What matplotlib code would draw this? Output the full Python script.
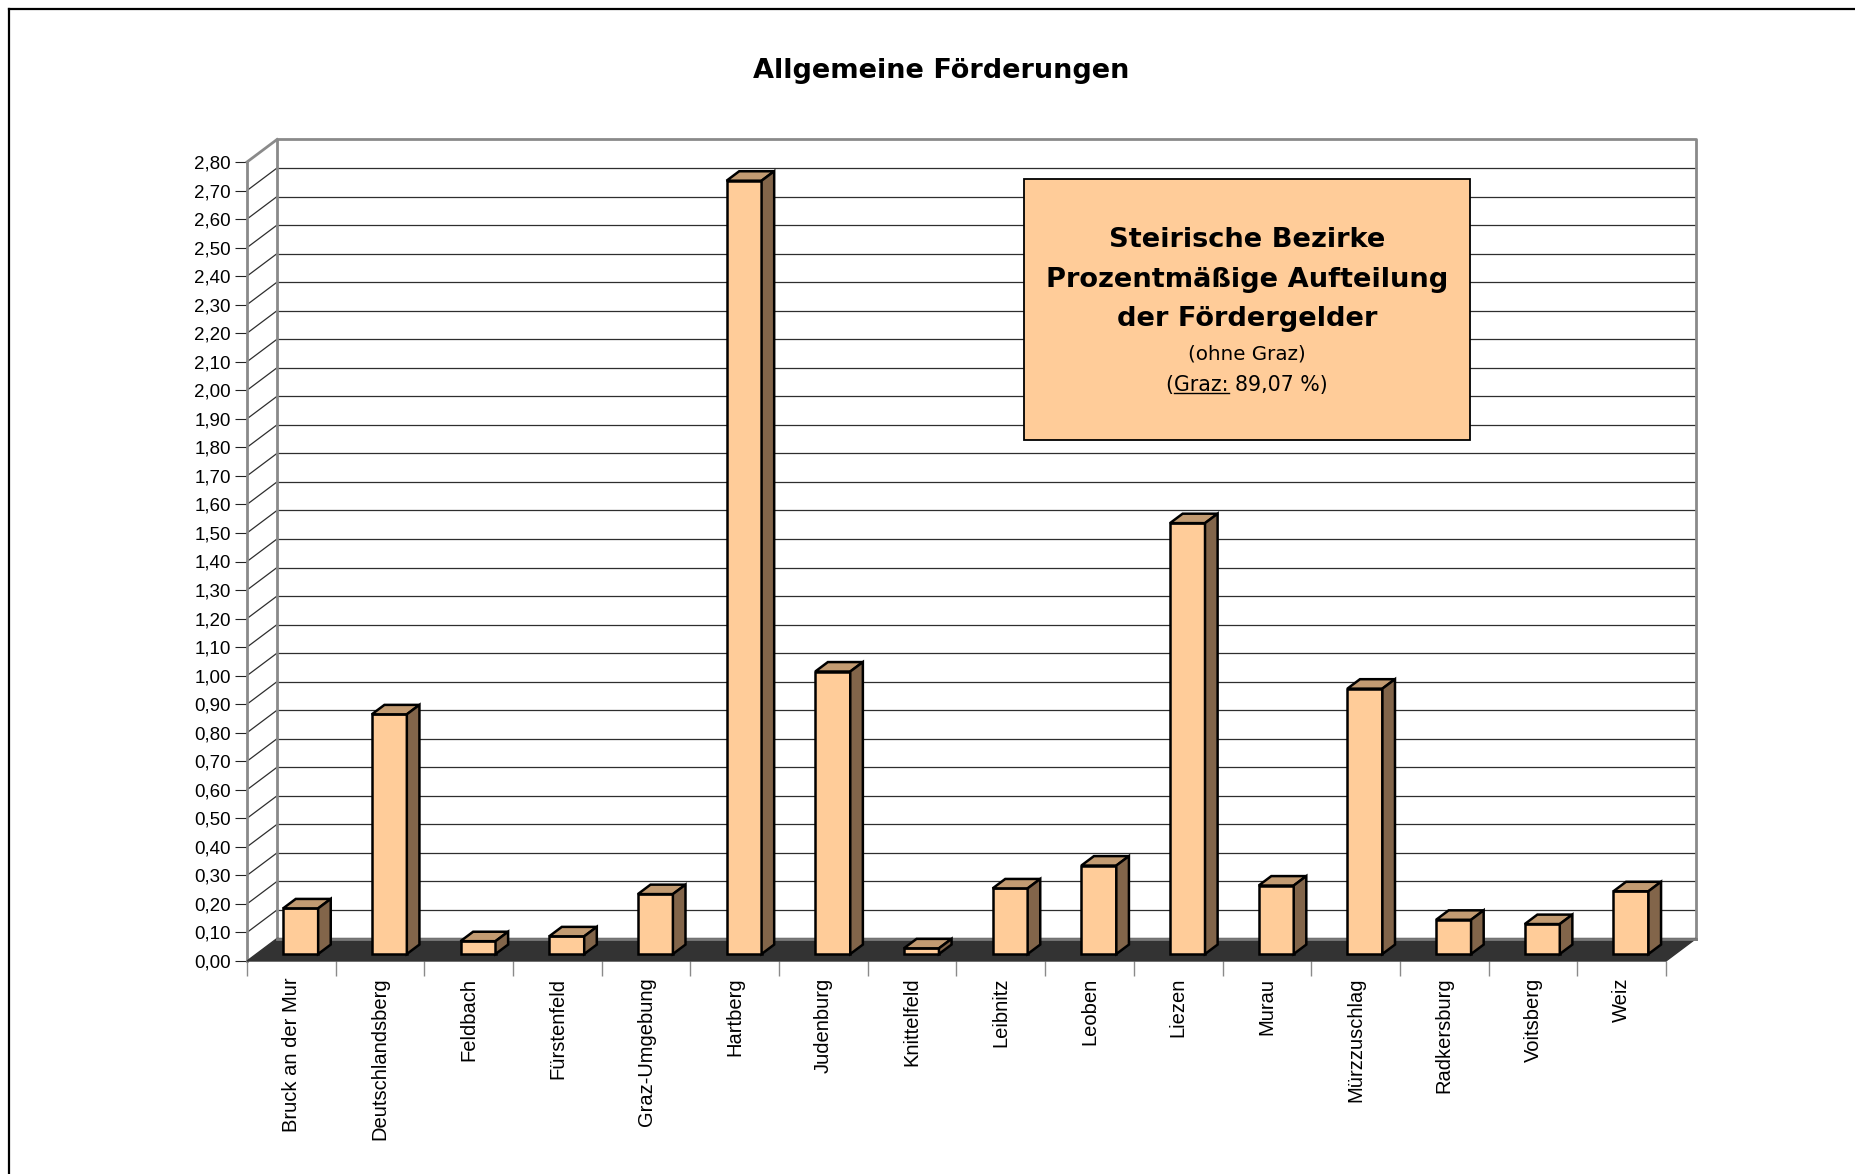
import matplotlib
matplotlib.use("Agg")
import matplotlib.pyplot as plt
import numpy as np
from matplotlib.lines import Line2D
from matplotlib.patches import Rectangle

# --- data (percent of funding, without Graz) ---
districts = [
    "Bruck an der Mur", "Deutschlandsberg", "Feldbach", "Fürstenfeld",
    "Graz-Umgebung", "Hartberg", "Judenburg", "Knittelfeld", "Leibnitz",
    "Leoben", "Liezen", "Murau", "Mürzzuschlag", "Radkersburg",
    "Voitsberg", "Weiz",
]
shares = [0.16, 0.84, 0.045, 0.062, 0.21, 2.71, 0.99, 0.02, 0.23,
          0.31, 1.51, 0.24, 0.93, 0.12, 0.105, 0.22]
y_ticks = [round(0.1 * k, 2) for k in range(29)]
y_labels = [f"{v:.2f}".replace(".", ",") for v in y_ticks]

title = "Allgemeine Förderungen"
box_lines = ["Steirische Bezirke", "Prozentmäßige Aufteilung", "der Fördergelder"]
box_note = "(ohne Graz)"
box_graz = "(Graz: 89,07 %)"

W, H = 1856, 1174
FRONT_L, FRONT_R, FRONT_B, FRONT_T = 247, 1666, 961, 162
YMAX = 2.8

FACE = "#FFCC99"
TOP = "#C29B72"
SIDE = "#82654A"
GRID = "#2e2e2e"
FRAME = "#8a8a8a"

plt.rcParams["font.family"] = ["Liberation Sans", "DejaVu Sans"]

fig = plt.figure(figsize=(W / 100, H / 100), dpi=100)
fig.patch.set_facecolor("white")

ax = fig.add_axes([FRONT_L / W, 1 - FRONT_B / H,
                   (FRONT_R - FRONT_L) / W, (FRONT_B - FRONT_T) / H])
n = len(districts)
ax.set_xlim(0, n)
ax.set_ylim(0, YMAX)
ax.patch.set_visible(False)

# depth of the pseudo-3D box in data units
DX = 30 / ((FRONT_R - FRONT_L) / n)
DY = 22.5 / ((FRONT_B - FRONT_T) / YMAX)

# back wall grid + left wall diagonals
for v in y_ticks[1:-1]:
    ax.plot([DX, n + DX], [v + DY, v + DY], color=GRID, lw=0.9, clip_on=False, zorder=1)
    ax.plot([0, DX], [v, v + DY], color=GRID, lw=0.9, clip_on=False, zorder=1)

# wall frame
ax.plot([DX, DX, n + DX, n + DX], [DY, YMAX + DY, YMAX + DY, DY],
        color=FRAME, lw=2, clip_on=False, zorder=2)
ax.plot([0, DX], [YMAX, YMAX + DY], color=FRAME, lw=2, clip_on=False, zorder=2)

# floor
ax.fill([0, n, n + DX, DX], [0, 0, DY, DY], color="#333333", clip_on=False, zorder=3)
ax.plot([DX, n + DX], [DY, DY], color="#7a7a7a", lw=2, clip_on=False, zorder=3.5)

# bars
BW = 35 / ((FRONT_R - FRONT_L) / n)
F0, F1 = 0.31, 0.73
d, e = (F1 - F0) * DX, (F1 - F0) * DY
for i, v in enumerate(shares):
    x0 = i + 0.5 - BW / 2 + F0 * DX
    y0 = F0 * DY
    kw = dict(ec="black", lw=1.8, clip_on=False, zorder=5, joinstyle="miter")
    ax.fill([x0, x0 + BW, x0 + BW, x0], [y0, y0, y0 + v, y0 + v], fc=FACE, **kw)
    ax.fill([x0, x0 + BW, x0 + BW + d, x0 + d],
            [y0 + v, y0 + v, y0 + v + e, y0 + v + e], fc=TOP, **kw)
    ax.fill([x0 + BW, x0 + BW + d, x0 + BW + d, x0 + BW],
            [y0, y0 + e, y0 + v + e, y0 + v], fc=SIDE, **kw)

# axes, ticks, labels
for side in ("top", "right", "bottom"):
    ax.spines[side].set_visible(False)
ax.spines["left"].set_color(FRAME)
ax.spines["left"].set_linewidth(2)
ax.spines["left"].set_zorder(2)

ax.set_yticks(y_ticks, y_labels)
ax.tick_params(axis="y", direction="out", length=8.6, width=0.8, color="#222222",
               pad=3, labelsize=13.5)
ax.set_xticks(np.arange(n + 1), [""] * (n + 1))
ax.set_xticks(np.arange(n) + 0.5, districts, minor=True, rotation=90)
ax.tick_params(axis="x", which="major", direction="out", length=10.5, width=1,
               color=FRAME)
ax.tick_params(axis="x", which="minor", length=0, pad=12, labelsize=14.5)

# title
fig.text(941 / W, 1 - 71 / H, title, ha="center", va="center",
         fontsize=19.5, fontweight="bold", family="DejaVu Sans")

# info box
BX0, BX1, BY0, BY1 = 1024, 1470, 179, 440
ax.add_patch(Rectangle((BX0 / W, 1 - BY1 / H), (BX1 - BX0) / W, (BY1 - BY0) / H,
                       transform=fig.transFigure, fc=FACE, ec="black", lw=1.3,
                       clip_on=False, zorder=10))
cx = (BX0 + BX1) / 2 / W
for line, py in zip(box_lines, [240, 280, 319]):
    fig.text(cx, 1 - py / H, line, ha="center", va="center", fontsize=19.6,
             fontweight="bold", family="DejaVu Sans", zorder=11)
fig.text(cx, 1 - 354 / H, box_note, ha="center", va="center", fontsize=14.3,
         family="DejaVu Sans", zorder=11)
graz = fig.text(cx, 1 - 385 / H, box_graz, ha="center", va="center", fontsize=14.8,
                family="DejaVu Sans", zorder=11)

# underline "Graz:" by measuring the text pieces
renderer = fig.canvas.get_renderer()
full_bb = graz.get_window_extent(renderer)
probe = fig.text(0, 0, "(", fontsize=14.8, family="DejaVu Sans")
w_open = probe.get_window_extent(renderer).width
probe.set_text("(Graz:")
w_graz = probe.get_window_extent(renderer).width
probe.remove()
uy = full_bb.y0 + 2
fig.add_artist(Line2D([(full_bb.x0 + w_open) / W, (full_bb.x0 + w_graz) / W],
                      [uy / H, uy / H], color="black", lw=1, zorder=12))

# outer frame (top and left edges)
fig.add_artist(Line2D([9 / W, 1], [1 - 9 / H, 1 - 9 / H], color="black", lw=1.6))
fig.add_artist(Line2D([9 / W, 9 / W], [0, 1 - 9 / H], color="black", lw=1.6))

fig.savefig("out.png", dpi=100)
